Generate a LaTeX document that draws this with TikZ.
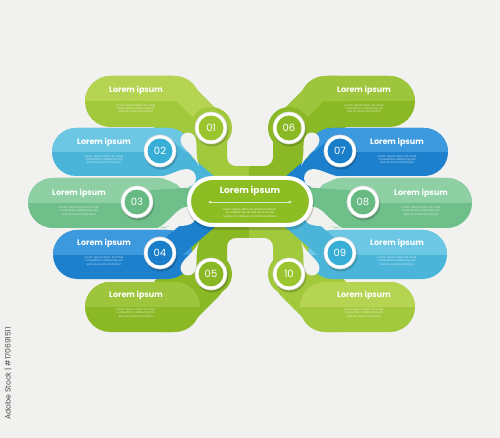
\documentclass[tikz,border=0pt]{standalone}
\usepackage{fontspec}
\setmainfont{Poppins}
\definecolor{bgc}{HTML}{F1F1EF}
\definecolor{limeA}{HTML}{A2C93C}\definecolor{limeAl}{HTML}{B5D452}\definecolor{limeAc}{HTML}{9BC52F}
\definecolor{limeB}{HTML}{8BB926}\definecolor{limeBl}{HTML}{9DC63C}\definecolor{limeBc}{HTML}{8AB825}
\definecolor{cyanA}{HTML}{4AB5D9}\definecolor{cyanAl}{HTML}{6CC7E4}\definecolor{cyanAc}{HTML}{38AED6}
\definecolor{mintA}{HTML}{6FBF8A}\definecolor{mintAl}{HTML}{8ECFA3}\definecolor{mintAc}{HTML}{66BA82}
\definecolor{blueA}{HTML}{1C80CC}\definecolor{blueAl}{HTML}{3C99DE}\definecolor{blueAc}{HTML}{1A7ECB}
\definecolor{pillc}{HTML}{8CBD22}
\newcommand{\notchat}[5]{%
  \fill[bgc,shift={(#1,#2)},rotate=#3] (0,0) .. controls ({0.45*#4},{-0.1*#5}) and ({0.7*#4},{-#5}) .. ({#4},{-#5})
    arc[start angle=-90,end angle=90,radius=#5] .. controls ({0.7*#4},{#5}) and ({0.45*#4},{0.1*#5}) .. cycle;}
\newcommand{\sidearms}[5]{%
  % hub and stems
  \fill[#1] (189,128) rectangle (251,204);
  \fill[#5] (189,204) rectangle (251,286);
  \fill[bgc,rounded corners=9] (227,96) rectangle (262,166);
  \fill[bgc,rounded corners=9] (227,238) rectangle (262,316);
  % top arm
  \fill[#1,rounded corners=25.5] (85,76) rectangle (200,127);
  \fill[#1,rounded corners=12] (150,76) -- (183,76) -- (227,120) -- (227,204) -- (189,204) -- (189,150) -- (150,127) -- cycle;
  \begin{scope}\clip[rounded corners=25.5] (85,76) rectangle (200,127); \fill[#1l] (80,70) rectangle (205,101.5);\end{scope}
  \begin{scope}\clip[rounded corners=12] (150,76) -- (183,76) -- (227,120) -- (227,204) -- (189,204) -- (189,150) -- (150,127) -- cycle;
    \fill[#1l] (150,70) -- (186,70) -- (240,124) -- (240,140) -- (215,140) -- (177,101.5) -- (150,101.5) -- cycle;\end{scope}
  % bottom arm
  \fill[#5,rounded corners=25] (85,282) rectangle (200,332);
  \fill[#5,rounded corners=12] (150,332) -- (183,332) -- (227,288) -- (227,204) -- (189,204) -- (189,258) -- (150,282) -- cycle;
  \begin{scope}\clip[rounded corners=25] (85,282) rectangle (200,332); \fill[#5l] (80,276) rectangle (205,307);\end{scope}
  \fill[#1] (211,128) circle (21);
  \fill[#5] (211,274) circle (21);
  % middle arms
  \fill[#2,rounded corners=24] (52,128) rectangle (192,176);
  \begin{scope}\clip[rounded corners=24] (52,128) rectangle (192,176); \fill[#2l] (50,126) rectangle (195,152);\end{scope}
  \fill[#4,rounded corners=24.5] (53,230) rectangle (192,279);
  \begin{scope}\clip[rounded corners=24.5] (53,230) rectangle (192,279); \fill[#4l] (50,228) rectangle (195,254.5);\end{scope}
  \fill[#3,rounded corners=25] (28,178) rectangle (185,228);
  \begin{scope}\clip[rounded corners=25] (28,178) rectangle (185,228); \fill[#3l] (25,176) rectangle (190,203);\end{scope}
  \draw[#2,line width=24] (165,150) -- (214,192);
  \draw[#4,line width=24] (165,254) -- (214,212);
  \draw[#3,line width=22] (140,202) -- (214,197);
  % notches
  \notchat{199}{166}{112.9}{28.2}{7.5}
  \notchat{156}{177}{-2}{31}{9}
  \notchat{156}{229}{23}{33.6}{9}
  \notchat{199}{242}{-112.9}{28.2}{7.5}
}
\tikzset{
  ttl/.style={text=white,font=\fontsize{8}{9}\selectfont\bfseries,inner sep=0pt},
  ph/.style={text=white,opacity=.7,font=\fontsize{2.8}{3.3}\selectfont,text width=48pt,align=center,inner sep=0pt},
  num/.style={text=white,font=\fontsize{10}{10}\selectfont,inner sep=0pt}
}
\newcommand{\numcirc}[4]{%
  \fill[black,opacity=.18] (#1+1,#2+2) circle (16.5);
  \fill[white] (#1,#2) circle (16);
  \draw[black!15,line width=.6] (#1,#2) circle (16);
  \fill[#3] (#1,#2) circle (12.5);
  \node[num] (c#4) at (#1,#2) {#4};
}
\newcommand{\phtext}{Lorem ipsum dolor sit amet consectetur adipiscing elit sed do eiusmod tempor}
\begin{document}
\begin{tikzpicture}[x=1pt,y=-1pt]
\useasboundingbox (0,0) rectangle (500,438);
\fill[bgc] (0,0) rectangle (500,438);
\sidearms{limeA}{cyanA}{mintA}{blueA}{limeB}
\begin{scope}[xshift=500pt,xscale=-1]
\sidearms{limeB}{blueA}{mintA}{cyanA}{limeA}
\end{scope}
% center pill
\fill[black,opacity=.15,rounded corners=26] (187,179) rectangle (314,230);
\node (center) [draw=white,line width=4,fill=pillc,rounded corners=23.5,minimum width=122,minimum height=47,inner sep=0pt] at (250,201.5) {};
\node[ttl,font=\fontsize{9}{10}\selectfont\bfseries] (ctitle) at (250,191) {Lorem ipsum};
\coordinate (la) at (210,202); \coordinate (lb) at (290,202);
\draw[white,opacity=.7,line width=.5] (la) -- (lb);
\fill[white,opacity=.8] (la) circle (1.3) (lb) circle (1.3);
\node[ph,text width=64pt,opacity=.85] (cph) at (250,213) {\phtext\ incididunt ut labore et dolore};
% circles
\numcirc{211}{128}{limeAc}{01}
\numcirc{160}{151}{cyanAc}{02}
\numcirc{137}{202}{mintAc}{03}
\numcirc{160}{253}{blueAc}{04}
\numcirc{211}{274}{limeBc}{05}
\numcirc{289}{128}{limeBc}{06}
\numcirc{340}{151}{blueAc}{07}
\numcirc{363}{202}{mintAc}{08}
\numcirc{340}{253}{cyanAc}{09}
\numcirc{289}{274}{limeAc}{10}
% titles
\node[ttl] (t01) at (136,90) {Lorem ipsum};
\node[ttl] (t02) at (104,142) {Lorem ipsum};
\node[ttl] (t03) at (79,193) {Lorem ipsum};
\node[ttl] (t04) at (104,243) {Lorem ipsum};
\node[ttl] (t05) at (136,295) {Lorem ipsum};
\node[ttl] (t06) at (364,90) {Lorem ipsum};
\node[ttl] (t07) at (397,142) {Lorem ipsum};
\node[ttl] (t08) at (421,193) {Lorem ipsum};
\node[ttl] (t09) at (397,243) {Lorem ipsum};
\node[ttl] (t10) at (364,295) {Lorem ipsum};
\node[ph] (p01) at (136,109) {\phtext};
\node[ph] (p02) at (104,160) {\phtext};
\node[ph] (p03) at (79,211) {\phtext};
\node[ph] (p04) at (104,261) {\phtext};
\node[ph] (p05) at (136,313) {\phtext};
\node[ph] (p06) at (364,109) {\phtext};
\node[ph] (p07) at (397,160) {\phtext};
\node[ph] (p08) at (421,211) {\phtext};
\node[ph] (p09) at (397,261) {\phtext};
\node[ph] (p10) at (364,313) {\phtext};
\node[rotate=90,anchor=east,text=black!70,font=\fontsize{7.5}{8}\selectfont,inner sep=0pt] (wm) at (8,327) {Adobe Stock | \#170691511};
\end{tikzpicture}
\end{document}
